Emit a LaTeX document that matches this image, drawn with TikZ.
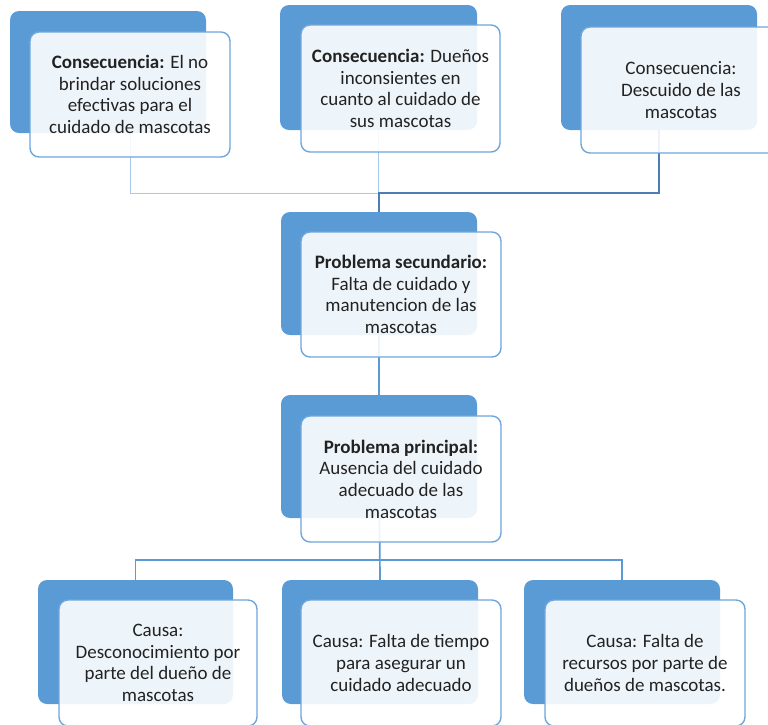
\documentclass[tikz,border=0pt]{standalone}
\usepackage{fontspec}
\setmainfont{Carlito}
\definecolor{boxblue}{HTML}{5B9BD5}
\definecolor{edgeblue}{HTML}{6FA6DB}
\definecolor{paleline}{HTML}{A8C9EA}
\definecolor{deepline}{HTML}{4A7EB5}
\definecolor{inkgray}{HTML}{222222}
\pgfdeclarelayer{bg}
\pgfsetlayers{bg,main}
\begin{document}
\begin{tikzpicture}[x=1pt,y=-1pt,
  backbox/.style={draw=none, fill=boxblue, rounded corners=9pt, inner sep=0pt},
  frontbox/.style={draw=edgeblue, line width=1.4pt, fill=white, fill opacity=0.9,
    text opacity=1, rounded corners=9pt, inner sep=0pt, align=center,
    text=inkgray, font=\fontsize{19}{21.6}\selectfont},
  paleconn/.style={draw=paleline, line width=1pt},
  deepconn/.style={draw=deepline, line width=2pt},
  midconn/.style={draw=boxblue, line width=1.7pt},
]
\useasboundingbox (0,0) rectangle (768,724);
\clip (0,0) rectangle (768,724);

% consequences (top row)
\node[backbox, minimum width=196pt, minimum height=122pt] (Ad) at (108,72) {};
\node[frontbox, minimum width=200pt, minimum height=125pt] (Al) at (130,94.5)
  {\textbf{Consecuencia:} El no\\brindar soluciones\\efectivas para el\\cuidado de mascotas};
\node[backbox, minimum width=197pt, minimum height=125pt] (Bd) at (378.5,67.5) {};
\node[frontbox, minimum width=199pt, minimum height=127pt] (Bl) at (400.5,88.5)
  {\textbf{Consecuencia:} Dueños\\inconsientes en\\cuanto al cuidado de\\sus mascotas};
\node[backbox, minimum width=196pt, minimum height=125pt] (Cd) at (659,67.5) {};
\node[frontbox, minimum width=200pt, minimum height=126pt] (Cl) at (681,90)
  {Consecuencia:\\Descuido de las\\mascotas};

% secondary and main problem
\node[backbox, minimum width=196pt, minimum height=123pt] (Sd) at (379,273.5) {};
\node[frontbox, minimum width=200pt, minimum height=125pt] (Sl) at (401,294.5)
  {\textbf{Problema secundario:}\\Falta de cuidado y\\manutencion de las\\mascotas};
\node[backbox, minimum width=196pt, minimum height=123pt] (Pd) at (379,456.5) {};
\node[frontbox, minimum width=200pt, minimum height=126pt] (Pl) at (401,479)
  {\textbf{Problema principal:}\\Ausencia del cuidado\\adecuado de las\\mascotas};

% causes (bottom row)
\node[backbox, minimum width=195pt, minimum height=124pt] (K1d) at (135.5,642) {};
\node[frontbox, minimum width=198pt, minimum height=126pt] (K1l) at (158,663)
  {Causa:\\Desconocimiento por\\parte del dueño de\\mascotas};
\node[backbox, minimum width=196pt, minimum height=124pt] (K2d) at (380,642) {};
\node[frontbox, minimum width=200pt, minimum height=126pt] (K2l) at (401,663)
  {Causa: Falta de tiempo\\para asegurar un\\cuidado adecuado};
\node[backbox, minimum width=196pt, minimum height=124pt] (K3d) at (622,642) {};
\node[frontbox, minimum width=200pt, minimum height=126pt] (K3l) at (645,663)
  {Causa: Falta de\\recursos por parte de\\dueños de mascotas.};

% junction points
\coordinate (jtop) at (379,193);
\coordinate (jbot) at (379,560);

% connectors behind the boxes
\begin{pgfonlayer}{bg}
  \draw[paleconn] (Al.center) |- (jtop);
  \draw[paleconn] (Bd.center) -- (Bd.center |- jtop);
  \draw[deepconn] (Cd.center) |- (Sd.north |- jtop) -- (Sd.north);
  \draw[midconn] (Sd.center) -- (Pd.north);
  \draw[midconn] (Pd.center) -- (K2d.north);
  \draw[midconn] (K1d.north) -- (K1d.north |- jbot) -- (K3d.north |- jbot) -- (K3d.north);
\end{pgfonlayer}
\end{tikzpicture}
\end{document}
